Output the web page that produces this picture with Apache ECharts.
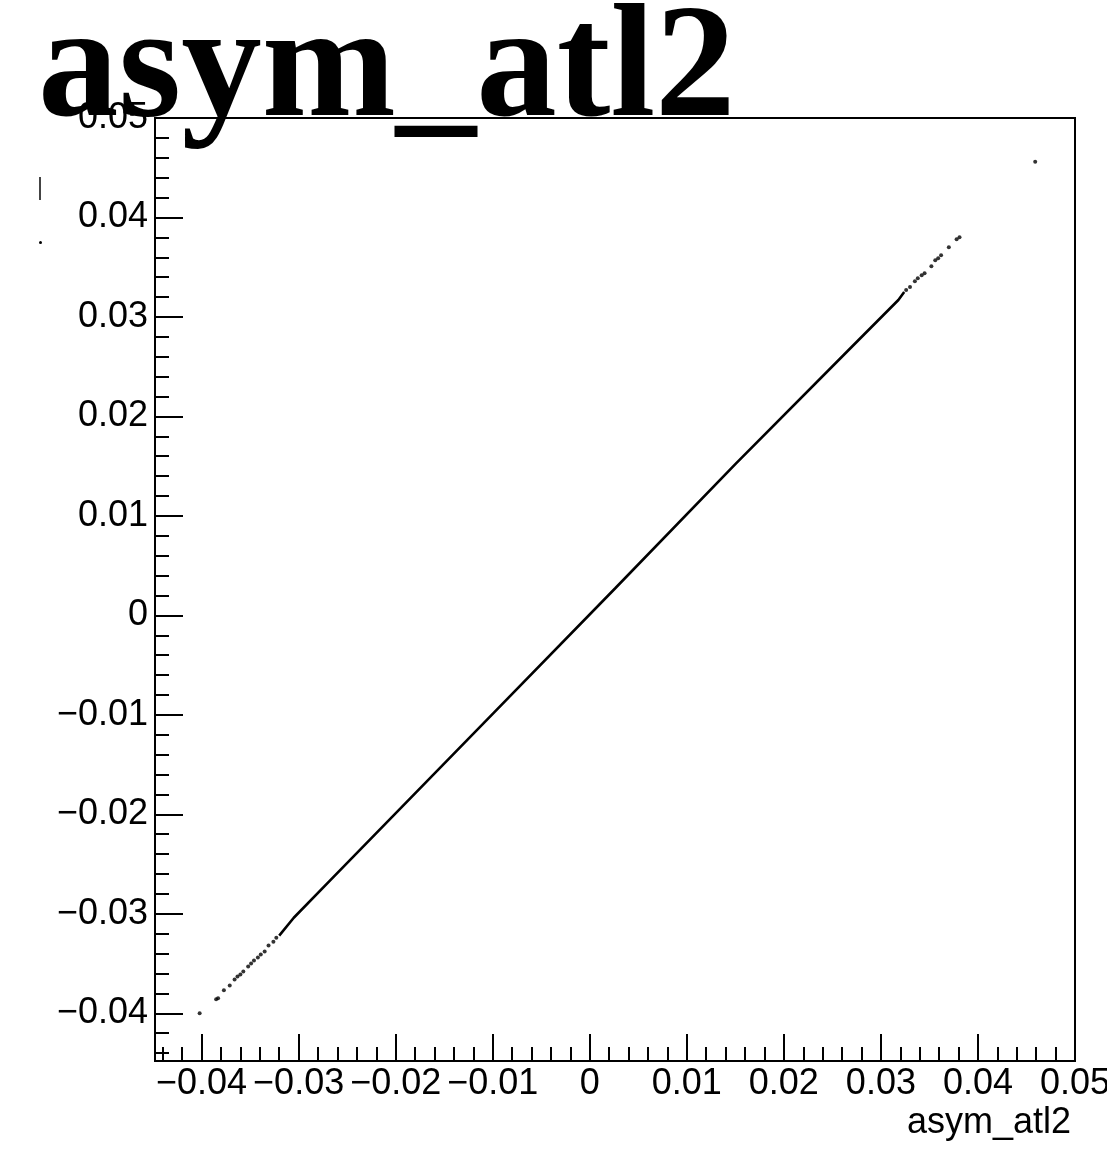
<!DOCTYPE html>
<html>
<head>
<meta charset="utf-8">
<title>asym_atl2</title>
<script src="https://cdn.jsdelivr.net/npm/echarts@6/dist/echarts.min.js"></script>
<style>
  html, body { margin: 0; padding: 0; background: #fff; }
  #chart { width: 1107px; height: 1153px; }
</style>
</head>
<body>
<div id="chart"></div>
<script>
// Axis ranges and tick labels
const axisMin = -0.0448;
const axisMax = 0.05;
const majorTicks = [-0.04, -0.03, -0.02, -0.01, 0, 0.01, 0.02, 0.03, 0.04, 0.05];
const minorStep = 0.002;

// Dense central band of the scatter, traced as a polyline
const bandX = [-0.0320, -0.0305, -0.0267, -0.0098, 0.0026, 0.0150, 0.0267, 0.0318, 0.0324];
const bandY = [-0.0322, -0.0304, -0.0266, -0.0097, 0.0027, 0.0152, 0.0267, 0.0317, 0.0325];

// Isolated entries in the sparse tails
const tailX = [-0.0402, -0.0385, -0.0383, -0.0377, -0.0371, -0.0366, -0.0363, -0.0360, -0.0357,
               -0.0352, -0.0349, -0.0346, -0.0342, -0.0339, -0.0335, -0.0331, -0.0326, -0.0323,
               0.0326, 0.0330, 0.0335, 0.0338, 0.0342, 0.0345, 0.0352, 0.0356, 0.0359, 0.0362,
               0.0370, 0.0378, 0.0381, 0.0459];
const tailY = [-0.0400, -0.0386, -0.0385, -0.0377, -0.0372, -0.0366, -0.0363, -0.0361, -0.0358,
               -0.0353, -0.0350, -0.0347, -0.0344, -0.0341, -0.0338, -0.0332, -0.0328, -0.0324,
               0.0327, 0.0330, 0.0336, 0.0339, 0.0342, 0.0344, 0.0351, 0.0357, 0.0359, 0.0362,
               0.0370, 0.0378, 0.0380, 0.0456];

const titleText = 'asym_atl2';
const xTitle = 'asym_atl2';

const minorTicks = [];
for (let k = Math.ceil(axisMin / minorStep); k * minorStep <= axisMax + 1e-9; k++) {
  minorTicks.push(+(k * minorStep).toFixed(4));
}

const labelFont = 'Liberation Sans';
const labelSize = 36;
const fmt = v => (Math.abs(v) < 1e-9 ? '0' : String(+v.toFixed(2)).replace('-', '\u2212'));

const gridRect = { left: 155, right: 32, top: 118, bottom: 92 };
const black = '#000';

function majorAxis(dim) {
  return {
    type: 'value',
    gridIndex: 0,
    min: axisMin,
    max: axisMax,
    position: dim === 'x' ? 'bottom' : 'left',
    axisLine: { show: true, onZero: false, lineStyle: { color: black, width: 2 } },
    axisTick: { show: true, inside: true, length: dim === 'x' ? 27 : 28,
                customValues: majorTicks, lineStyle: { color: black, width: 2 } },
    axisLabel: { show: true, customValues: majorTicks, formatter: fmt,
                 margin: dim === 'x' ? 5 : 7, color: black, fontSize: labelSize, fontFamily: labelFont },
    splitLine: { show: false }
  };
}
function minorAxis(dim) {
  return {
    type: 'value',
    gridIndex: 1,
    min: axisMin,
    max: axisMax,
    position: dim === 'x' ? 'bottom' : 'left',
    axisLine: { show: false, onZero: false },
    axisTick: { show: true, inside: true, length: 14,
                customValues: minorTicks, lineStyle: { color: black, width: 2 } },
    axisLabel: { show: false },
    splitLine: { show: false }
  };
}

const chart = echarts.init(document.getElementById('chart'), null, { renderer: 'canvas' });
chart.setOption({
  backgroundColor: '#fff',
  animation: false,
  grid: [
    Object.assign({ show: true, borderColor: black, borderWidth: 2, backgroundColor: '#fff',
                    containLabel: false, outerBoundsMode: 'none' }, gridRect),
    Object.assign({ show: false, containLabel: false, outerBoundsMode: 'none' }, gridRect)
  ],
  xAxis: [majorAxis('x'), minorAxis('x')],
  yAxis: [majorAxis('y'), minorAxis('y')],
  series: [
    {
      type: 'line',
      xAxisIndex: 0, yAxisIndex: 0,
      data: bandX.map((x, i) => [x, bandY[i]]),
      symbol: 'none',
      lineStyle: { color: black, width: 2.6 },
      silent: true
    },
    {
      type: 'scatter',
      xAxisIndex: 0, yAxisIndex: 0,
      data: tailX.map((x, i) => [x, tailY[i]]),
      symbol: 'circle',
      symbolSize: 4,
      itemStyle: { color: black },
      silent: true
    }
  ],
  graphic: [
    {
      type: 'text', z: 100,
      x: 1071, y: 1123,
      style: { text: xTitle, fill: black, fontSize: labelSize, fontFamily: labelFont,
               align: 'right', verticalAlign: 'middle' }
    },
    // clipped fragments of the vertical axis title at the left edge
    { type: 'rect', z: 100, shape: { x: 39, y: 177, width: 2, height: 23 }, style: { fill: '#444' } },
    { type: 'circle', z: 100, shape: { cx: 40.5, cy: 242.5, r: 1.5 }, style: { fill: black } },
    {
      type: 'text', z: 100,
      x: 38, y: 73,
      style: { text: titleText, fill: black, fontSize: 161, fontWeight: 'bold',
               fontFamily: 'Liberation Serif', align: 'left', verticalAlign: 'middle' }
    }
  ]
});
</script>
</body>
</html>
